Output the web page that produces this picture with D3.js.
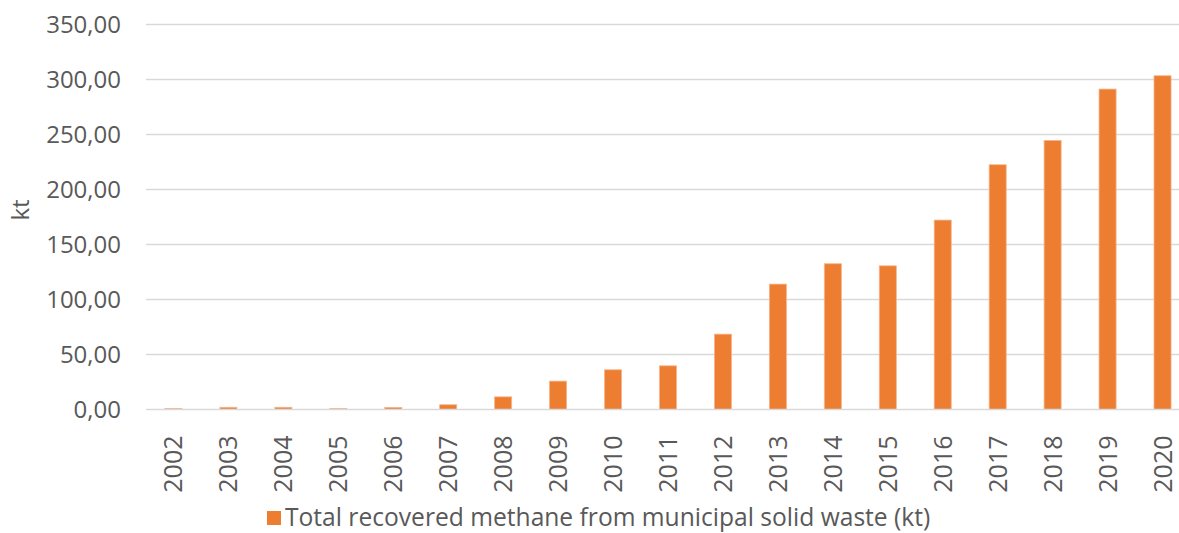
<!DOCTYPE html>
<html>
<head>
<meta charset="utf-8">
<script src="https://cdn.jsdelivr.net/npm/d3@7/dist/d3.min.js"></script>
<style>
  html, body { margin: 0; padding: 0; background: #fff; }
  svg { display: block; font-family: "Open Sans", "Noto Sans", sans-serif; }
</style>
</head>
<body>
<svg id="chart" width="1179" height="533"></svg>
<script>
// Recovered methane from municipal solid waste, kt per year
const years = ["2002","2003","2004","2005","2006","2007","2008","2009","2010","2011",
               "2012","2013","2014","2015","2016","2017","2018","2019","2020"];
const recovered = [1.0, 2.0, 2.0, 1.0, 1.8, 4.3, 11.5, 25.8, 36.1, 39.7,
                   68.5, 114.0, 132.5, 130.6, 172.2, 222.5, 244.6, 291.3, 303.4];
const yTicks = [0, 50, 100, 150, 200, 250, 300, 350];
const seriesName = "Total recovered methane from municipal solid waste (kt)";
const yTitle = "kt";

const svg = d3.select("#chart");
const textColor = "#595959";
const barColor = "#ED7D31";

const x = d3.scaleBand().domain(years).range([146, 1190]).paddingInner(0.69).paddingOuter(0.345);
const y = d3.scaleLinear().domain([0, 350]).range([409.5, 24.5]);

const fmt = v => d3.format(".2f")(v).replace(".", ",");

// horizontal gridlines
svg.append("g")
  .selectAll("line")
  .data(yTicks.filter(d => d > 0))
  .join("line")
  .attr("x1", 146).attr("x2", 1179)
  .attr("y1", d => y(d)).attr("y2", d => y(d))
  .attr("stroke", "#d9d9d9").attr("stroke-width", 1.5);

// y axis labels
const yAxis = svg.append("g")
  .attr("transform", "translate(121,0)")
  .call(d3.axisLeft(y).tickValues(yTicks).tickFormat(fmt).tickSize(0).tickPadding(0));
yAxis.select(".domain").remove();
yAxis.selectAll("text")
  .attr("fill", textColor)
  .style("font-size", "24px")
  .style("font-family", "'Open Sans', sans-serif");

// bars
svg.append("g")
  .selectAll("rect")
  .data(years.map((yr, i) => ({ yr, v: recovered[i] })))
  .join("rect")
  .attr("x", d => x(d.yr))
  .attr("width", x.bandwidth())
  .attr("y", d => y(d.v))
  .attr("height", d => y(0) - y(d.v))
  .attr("fill", barColor)
  .attr("stroke", "#f5b48a")
  .attr("stroke-width", 0.8);

// baseline
svg.append("line")
  .attr("x1", 146).attr("x2", 1179)
  .attr("y1", y(0)).attr("y2", y(0))
  .attr("stroke", "#d9d9d9").attr("stroke-width", 1.5);

// x axis labels, rotated
const xAxis = svg.append("g")
  .attr("transform", `translate(0,${y(0)})`)
  .call(d3.axisBottom(x).tickSize(0).tickPadding(0));
xAxis.select(".domain").remove();
xAxis.selectAll("text")
  .attr("fill", textColor)
  .style("font-size", "25px")
  .style("font-family", "'Open Sans', sans-serif")
  .attr("text-anchor", "end")
  .attr("dy", null)
  .attr("y", 0)
  .attr("transform", "translate(9,26) rotate(-90)");

// y axis title
svg.append("text")
  .attr("transform", "translate(29,210) rotate(-90)")
  .attr("text-anchor", "middle")
  .attr("fill", textColor)
  .style("font-size", "24px")
  .text(yTitle);

// legend
const legend = svg.append("g").attr("transform", "translate(267,517)");
legend.append("rect")
  .attr("x", 0).attr("y", -6).attr("width", 14).attr("height", 14)
  .attr("fill", barColor);
legend.append("text")
  .attr("x", 18).attr("y", 0).attr("dy", "0.35em")
  .attr("fill", textColor)
  .style("font-size", "24.6px")
  .text(seriesName);
</script>
</body>
</html>
